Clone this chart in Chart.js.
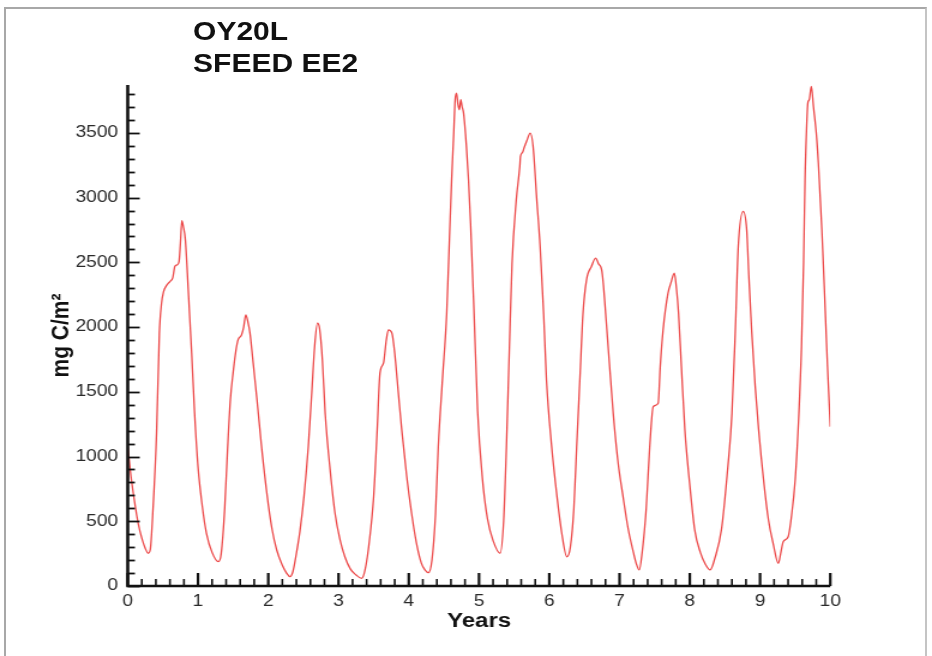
<!DOCTYPE html>
<html>
<head>
<meta charset="utf-8">
<title>OY20L SFEED EE2</title>
<script src="https://cdn.jsdelivr.net/npm/chart.js@4.4.1/dist/chart.umd.min.js"></script>
<style>
  html, body { margin: 0; padding: 0; background: #fff; overflow: hidden; }
  body { width: 932px; height: 656px; position: relative; font-family: "Liberation Sans", Arial, sans-serif; }
  #frame {
    position: absolute; left: 4px; top: 7px; width: 919px; height: 660px;
    border-left: 2px solid #a8a8a8; border-top: 2px solid #a8a8a8; border-right: 2px solid #c4c4c4;
  }
  /* the plot is laid out narrow and widened, like the original export */
  #wrap {
    position: absolute; left: 0; top: 0; width: 777px; height: 656px;
    transform: scaleX(1.19949); transform-origin: 0 0;
  }
  .title { position: absolute; left: 161px; font-weight: bold; font-size: 25px; line-height: 25px; color: #111; white-space: nowrap; }
</style>
</head>
<body>
<div id="frame"></div>
<div id="wrap">
  <canvas id="biomass" width="777" height="656"></canvas>
  <div class="title" style="top: 19px;">OY20L</div>
  <div class="title" style="top: 50.5px;">SFEED EE2</div>
</div>
<script>
// time in years, carbon in mg C/m^2
const years = [
  0.00, 0.05, 0.10, 0.15, 0.20, 0.25, 0.29, 0.32, 0.36, 0.41, 0.45, 0.48, 0.51, 0.55, 0.60, 0.64, 0.67, 0.70, 0.73, 0.75, 0.77, 0.79, 0.82, 0.86, 0.91, 0.95,
  1.00, 1.06, 1.12, 1.20, 1.29, 1.33, 1.38, 1.42, 1.46, 1.50, 1.54, 1.57, 1.62, 1.65, 1.68, 1.71, 1.74, 1.78, 1.84, 1.90, 1.98,
  2.05, 2.12, 2.20, 2.26, 2.31, 2.35, 2.40, 2.45, 2.51, 2.57, 2.62, 2.66, 2.70, 2.73, 2.77, 2.81, 2.88, 2.95,
  3.02, 3.09, 3.17, 3.25, 3.33, 3.38, 3.44, 3.50, 3.55, 3.59, 3.64, 3.68, 3.71, 3.76, 3.80, 3.85, 3.90, 3.97,
  4.04, 4.11, 4.18, 4.23, 4.28, 4.33, 4.38, 4.42, 4.48, 4.54, 4.58, 4.61, 4.64, 4.66, 4.68, 4.70, 4.72, 4.74, 4.76, 4.78, 4.82, 4.85, 4.88, 4.93,
  4.98, 5.05, 5.12, 5.20, 5.30, 5.35, 5.39, 5.43, 5.47, 5.53, 5.58, 5.59, 5.62, 5.64, 5.68, 5.73, 5.77, 5.82, 5.87, 5.92, 5.96,
  6.03, 6.11, 6.18, 6.25, 6.30, 6.35, 6.39, 6.44, 6.48, 6.53, 6.60, 6.66, 6.70, 6.75, 6.82, 6.91, 6.98,
  7.05, 7.12, 7.20, 7.24, 7.28, 7.32, 7.38, 7.43, 7.48, 7.55, 7.58, 7.62, 7.69, 7.73, 7.78, 7.81, 7.84, 7.88, 7.93,
  8.00, 8.07, 8.15, 8.22, 8.29, 8.36, 8.45, 8.53, 8.60, 8.65, 8.69, 8.76, 8.81, 8.84, 8.88, 8.93, 8.98,
  9.05, 9.12, 9.19, 9.26, 9.30, 9.33, 9.40, 9.45, 9.50, 9.55, 9.59, 9.62, 9.64, 9.66, 9.68, 9.70, 9.73, 9.76, 9.80, 9.83, 9.88, 9.92, 9.96,
  10.00
];
const carbon = [
  1077, 830, 640, 480, 370, 290, 253, 280, 600, 1180, 1953, 2180, 2274, 2320, 2352, 2380, 2468, 2480, 2506, 2650, 2823, 2780, 2674, 2300, 1798, 1350,
  922, 620, 407, 260, 188, 250, 600, 1050, 1437, 1650, 1820, 1901, 1940, 2000, 2094, 2040, 1953, 1750, 1437, 1100, 716,
  450, 278, 160, 100, 72, 110, 250, 420, 700, 1077, 1500, 1850, 2030, 1990, 1750, 1335, 900, 562,
  360, 226, 130, 85, 59, 130, 350, 690, 1200, 1644, 1721, 1900, 1978, 1953, 1798, 1500, 1206, 850,
  562, 330, 175, 125, 103, 200, 550, 1077, 1600, 2107, 2700, 3138, 3500, 3756, 3807, 3720, 3678, 3756, 3700, 3653, 3400, 3138, 2800, 2100,
  1350, 820, 520, 350, 253, 500, 1077, 1800, 2494, 2983, 3240, 3318, 3350, 3383, 3440, 3499, 3395, 3000, 2622, 2100, 1592,
  1100, 690, 400, 226, 300, 600, 1077, 1650, 2107, 2365, 2468, 2532, 2490, 2429, 1978, 1335, 950,
  690, 450, 253, 170, 124, 250, 600, 1077, 1386, 1412, 1700, 1978, 2262, 2339, 2416, 2300, 2107, 1700, 1206,
  780, 433, 260, 170, 124, 220, 433, 850, 1335, 2000, 2622, 2893, 2751, 2400, 1978, 1550, 1206,
  820, 510, 320, 175, 270, 342, 381, 550, 819, 1300, 1849, 2500, 3138, 3500, 3730, 3756, 3859, 3704, 3500, 3267, 2750, 2236, 1700,
  1231
];

const xTicks = [0, 1, 2, 3, 4, 5, 6, 7, 8, 9, 10];
const yTicks = [0, 500, 1000, 1500, 2000, 2500, 3000, 3500];
const xMin = 0, xMax = 10, xMinor = 0.2;
const yMin = 0, yMax = 3870, yMinor = 100;

Chart.defaults.font.family = '"Liberation Sans", Arial, sans-serif';

// axis lines with inward major and minor tick marks
const inwardAxes = {
  id: 'inwardAxes',
  afterDraw(chart) {
    const { ctx, scales: { x, y } } = chart;
    const left = x.getPixelForValue(xMin), right = x.getPixelForValue(xMax);
    const bottom = y.getPixelForValue(yMin), top = y.getPixelForValue(yMax);
    ctx.save();
    ctx.strokeStyle = '#111';
    ctx.lineCap = 'butt';

    ctx.lineWidth = 1.8;
    const ySteps = Math.floor((yMax - yMin) / yMinor);
    for (let i = 0; i <= ySteps; i++) {
      const v = yMin + i * yMinor;
      const py = Math.round(y.getPixelForValue(v)) + 0.5;
      const len = yTicks.includes(v) ? 10 : 6;
      ctx.beginPath();
      ctx.moveTo(left, py);
      ctx.lineTo(left + len, py);
      ctx.stroke();
    }
    const xSteps = Math.round((xMax - xMin) / xMinor);
    for (let i = 0; i <= xSteps; i++) {
      const t = xMin + i * xMinor;
      const px = x.getPixelForValue(t);
      const major = xTicks.some(m => Math.abs(m - t) < 1e-6);
      const len = major ? 13 : 7;
      ctx.lineWidth = major ? 2.2 : 1.6;
      ctx.beginPath();
      ctx.moveTo(px, bottom);
      ctx.lineTo(px, bottom - len);
      ctx.stroke();
    }

    ctx.lineWidth = 2.6;
    ctx.beginPath();
    ctx.moveTo(left, top);
    ctx.lineTo(left, bottom);
    ctx.lineTo(right, bottom);
    ctx.stroke();
    ctx.restore();
  }
};

new Chart(document.getElementById('biomass'), {
  type: 'line',
  data: {
    datasets: [{
      data: years.map((t, i) => ({ x: t, y: carbon[i] })),
      borderColor: '#ec4a4a',
      borderWidth: 1.3,
      pointRadius: 0,
      fill: false,
      cubicInterpolationMode: 'monotone'
    }]
  },
  options: {
    responsive: false,
    animation: false,
    layout: { padding: { top: 85, right: 84.8, bottom: 0, left: 0 } },
    plugins: {
      legend: { display: false },
      tooltip: { enabled: false }
    },
    scales: {
      x: {
        type: 'linear',
        min: xMin,
        max: xMax,
        grid: { display: false, drawTicks: false },
        border: { display: false },
        ticks: { padding: 6, color: '#2a2a2a', font: { size: 16 } },
        afterBuildTicks(scale) { scale.ticks = xTicks.map(v => ({ value: v })); },
        title: {
          display: true,
          text: 'Years',
          color: '#111',
          font: { size: 20, weight: 'bold' },
          padding: { top: 0, bottom: 22.5 }
        },
        afterFit(scale) { scale.height = 70; }
      },
      y: {
        type: 'linear',
        min: yMin,
        max: yMax,
        grid: { display: false, drawTicks: false },
        border: { display: false },
        ticks: { padding: 8, color: '#2a2a2a', font: { size: 16 }, callback: v => String(v) },
        afterBuildTicks(scale) { scale.ticks = yTicks.map(v => ({ value: v })); },
        title: {
          display: true,
          text: 'mg C/m²',
          color: '#111',
          font: { size: 21, weight: 'bold' },
          padding: { top: 39, bottom: 0 }
        },
        afterFit(scale) { scale.width = 106.5; }
      }
    }
  },
  plugins: [inwardAxes]
});
</script>
</body>
</html>
